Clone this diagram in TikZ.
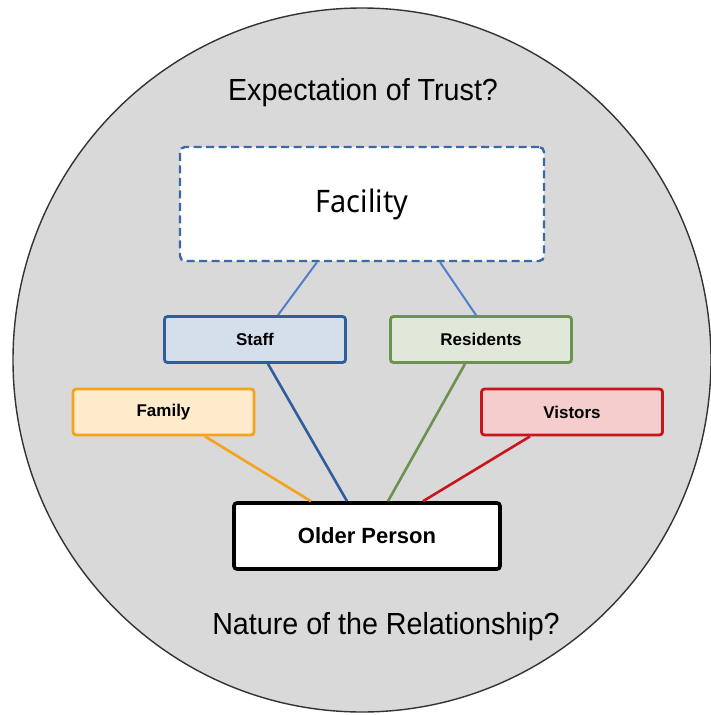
\documentclass[tikz,border=0pt]{standalone}
\usepackage{graphicx}
\usepackage{fontspec}
\setmainfont{Liberation Sans}
\newfontfamily\facfont{Noto Sans}
\definecolor{circfill}{HTML}{D9D9D9}
\definecolor{circline}{HTML}{333333}
\definecolor{facblue}{HTML}{3D68A8}
\definecolor{linkblue}{HTML}{4F7FCB}
\definecolor{staffline}{HTML}{2E5E9E}
\definecolor{stafffill}{HTML}{D5DFEC}
\definecolor{resline}{HTML}{6C9150}
\definecolor{resfill}{HTML}{E0E9D9}
\definecolor{famline}{HTML}{F5A21C}
\definecolor{famfill}{HTML}{FDEBCB}
\definecolor{visline}{HTML}{C8161C}
\definecolor{visfill}{HTML}{F5CDCD}
\tikzset{
  px/.style={x=1pt,y=-1pt},
  smallbox/.style={draw, line width=2.8pt, rounded corners=3pt, minimum width=181pt, minimum height=46pt, inner sep=0pt, font=\fontsize{17}{19}\selectfont\bfseries},
  link/.style={line width=2.6pt},
  bigtext/.style={font=\fontsize{30.5}{34}\selectfont},
}
\begin{document}
\begin{tikzpicture}[px]
\useasboundingbox (0,0) rectangle (711,715);
\fill[white] (0,0) rectangle (711,715);
\draw[circline, fill=circfill, line width=1.4pt] (362,360) ellipse [x radius=349pt, y radius=352pt];
\node[bigtext] (trust) at (363,93) {\scalebox{0.94}[1]{Expectation of Trust?}};
\node[bigtext] (nature) at (386,627) {\scalebox{0.94}[1]{Nature of the Relationship?}};
\node[draw=facblue, fill=white, dashed, dash pattern=on 8pt off 4.5pt, line width=2.4pt, rounded corners=5pt, minimum width=364pt, minimum height=114pt, inner sep=0pt] (facility) at (362,204) {\facfont\fontsize{31}{35}\selectfont\scalebox{0.93}[1]{Facility}};
\node[smallbox, draw=staffline, fill=stafffill] (staff) at (255,339.5) {Staff};
\node[smallbox, draw=resline, fill=resfill] (residents) at (481,339.5) {Residents};
\node[smallbox, draw=famline, fill=famfill] (family) at (163.5,412) {Family};
\node[smallbox, draw=visline, fill=visfill] (visitors) at (572,412) {Vistors};
\node[draw=black, fill=white, line width=3.6pt, rounded corners=3pt, minimum width=266pt, minimum height=66pt, inner sep=0pt, font=\fontsize{22}{25}\selectfont\bfseries] (older) at (367,536) {Older Person};
\draw[link, linkblue, line width=2pt] (facility.south -| 317,0) -- (staff.north -| 278,0);
\draw[link, linkblue, line width=2pt] (facility.south -| 440,0) -- (residents.north -| 476,0);
\draw[link, staffline] (staff.south -| 268,0) -- (older.north -| 347,0);
\draw[link, resline] (residents.south -| 465,0) -- (older.north -| 388,0);
\draw[link, famline] (family.south -| 205,0) -- (older.north -| 311,0);
\draw[link, visline] (visitors.south -| 530,0) -- (older.north -| 423,0);
\end{tikzpicture}
\end{document}
